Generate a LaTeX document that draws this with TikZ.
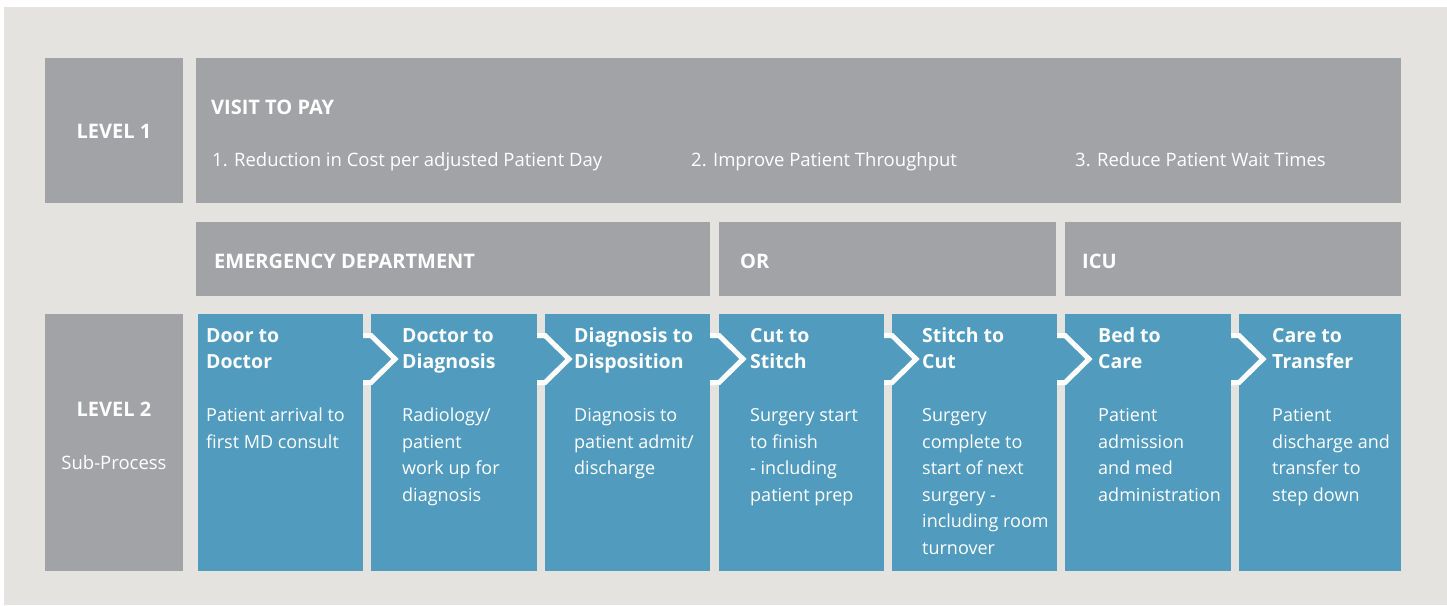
\documentclass[tikz,border=0pt]{standalone}
\usepackage{fontspec}
\setmainfont{Open Sans}
\definecolor{pagebg}{HTML}{E4E3DF}
\definecolor{panelgray}{HTML}{A2A3A7}
\definecolor{stepblue}{HTML}{519CBE}
% left-aligned block of lines whose first baseline sits on the node's base
\newcommand{\linestack}[1]{\begin{tabular}[t]{@{}l@{}}#1\end{tabular}}
\begin{document}
\begin{tikzpicture}[x=1pt,y=-1pt,
  panel/.style={fill=panelgray},
  stepbox/.style={fill=stepblue},
  txt/.style={inner sep=0pt,text=white},
  boldhead/.style={txt,font=\fontsize{20}{26}\selectfont\bfseries},
  plaintext/.style={txt,font=\fontsize{18.5}{26.6}\selectfont},
  steptitle/.style={txt,anchor=base west,font=\fontsize{19.5}{26}\selectfont\bfseries},
  stepdesc/.style={txt,anchor=base west,font=\fontsize{18}{26.6}\selectfont},
  chevron/.style={draw=white,line width=5pt,miter limit=10}]
\path[use as bounding box] (0,0) rectangle (1447,605);
\fill[white] (0,0) rectangle (1447,605);
\fill[pagebg] (4,7) rectangle (1447,605);

% level 1
\fill[panel] (45,58) rectangle (183,203);
\fill[panel] (196,58) rectangle (1401,203);
\node[boldhead] (lvl1) at (114,131) {LEVEL 1};
\node[boldhead,anchor=base west] (vtp) at (211,114.3) {VISIT TO PAY};
\node[plaintext,anchor=base west] (goal1) at (212,166.7) {1. Reduction in Cost per adjusted Patient Day};
\node[plaintext,anchor=base west] (goal2) at (691,166.7) {2. Improve Patient Throughput};
\node[plaintext,anchor=base west] (goal3) at (1075,166.7) {3. Reduce Patient Wait Times};

% department headers
\fill[panel] (196,222) rectangle (710,296);
\fill[panel] (719,222) rectangle (1056,296);
\fill[panel] (1065,222) rectangle (1401,296);
\node[boldhead,anchor=base west] (ed) at (214,268) {EMERGENCY DEPARTMENT};
\node[boldhead,anchor=base west] (or) at (740,268) {OR};
\node[boldhead,anchor=base west] (icu) at (1082,268) {ICU};

% level 2
\fill[panel] (45,314) rectangle (183,571);
\node[boldhead] (lvl2) at (114,409) {LEVEL 2};
\node[plaintext] (subp) at (114,463) {Sub-Process};

% sub-process steps
\foreach \l/\r in {198/363,371/537,545/710,719/884,892/1057,1065/1231,1239/1401}
  \fill[stepbox] (\l,314) rectangle (\r,571);
% arrow heads joining neighbouring steps
\foreach \gl/\gr in {363/371,537/545,710/719,884/892,1057/1065,1231/1239}{
  \fill[stepbox] (\gl,335) rectangle (\gr,383);
  \draw[chevron] (\gl,335.5) -- (\gr,335.5) -- (\gr+24,359) -- (\gr,382.5) -- (\gl,382.5);
}

\node[steptitle] (t1) at (206,342) {\linestack{Door to\\Doctor}};
\node[steptitle] (t2) at (402,342) {\linestack{Doctor to\\Diagnosis}};
\node[steptitle] (t3) at (574,342) {\linestack{Diagnosis to\\Disposition}};
\node[steptitle] (t4) at (750,342) {\linestack{Cut to\\Stitch}};
\node[steptitle] (t5) at (922,342) {\linestack{Stitch to\\Cut}};
\node[steptitle] (t6) at (1098,342) {\linestack{Bed to\\Care}};
\node[steptitle] (t7) at (1272,342) {\linestack{Care to\\Transfer}};

\node[stepdesc] (d1) at (206,421.5) {\linestack{Patient arrival to\\first MD consult}};
\node[stepdesc] (d2) at (402,421.5) {\linestack{Radiology/\\patient\\work up for\\diagnosis}};
\node[stepdesc] (d3) at (574,421.5) {\linestack{Diagnosis to\\patient admit/\\discharge}};
\node[stepdesc] (d4) at (750,421.5) {\linestack{Surgery start\\to finish\\- including\\patient prep}};
\node[stepdesc] (d5) at (922,421.5) {\linestack{Surgery\\complete to\\start of next\\surgery -\\including room\\turnover}};
\node[stepdesc] (d6) at (1098,421.5) {\linestack{Patient\\admission\\and med\\administration}};
\node[stepdesc] (d7) at (1272,421.5) {\linestack{Patient\\discharge and\\transfer to\\step down}};
\end{tikzpicture}
\end{document}
